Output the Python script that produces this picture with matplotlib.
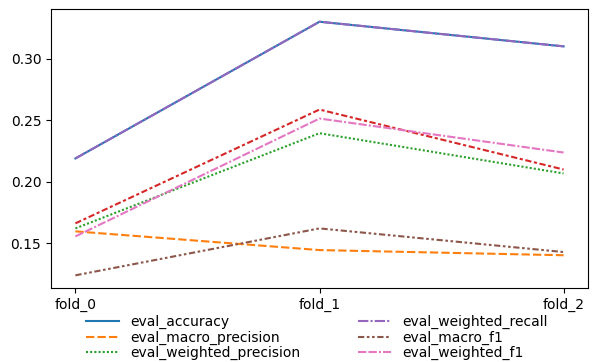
import matplotlib.pyplot as plt

folds = ['fold_0', 'fold_1', 'fold_2']
eval_accuracy = [0.219, 0.330, 0.310]
eval_macro_precision = [0.1598, 0.1446, 0.1404]
eval_weighted_precision = [0.1622, 0.2395, 0.2068]
eval_macro_recall = [0.1663, 0.2587, 0.2100]
eval_weighted_recall = [0.219, 0.330, 0.310]
eval_macro_f1 = [0.1241, 0.1622, 0.1430]
eval_weighted_f1 = [0.1557, 0.2514, 0.2238]

series = [
    ('eval_accuracy', eval_accuracy),
    ('eval_macro_precision', eval_macro_precision),
    ('eval_weighted_precision', eval_weighted_precision),
    ('eval_macro_recall', eval_macro_recall),
    ('eval_weighted_recall', eval_weighted_recall),
    ('eval_macro_f1', eval_macro_f1),
    ('eval_weighted_f1', eval_weighted_f1),
]

# seaborn-style default dash patterns
dashes = [
    None,
    (4, 1.5),
    (1, 1),
    (3, 1.25, 1.5, 1.25),
    (5, 1, 1, 1),
    (3, 1.25, 1.25, 1.25, 1.25, 1.25),
    (4, 1, 4, 1, 1, 1),
]
colors = ['tab:blue', 'tab:orange', 'tab:green', 'tab:red',
          'tab:purple', 'tab:brown', 'tab:pink']

fig = plt.figure(figsize=(5.93, 3.62), dpi=100)
ax = fig.add_axes([0.086, 0.2044, 0.9056, 0.7706])

lines = []
for (name, vals), d, c in zip(series, dashes, colors):
    line, = ax.plot(folds, vals, color=c, lw=1.5, label=name)
    if d is not None:
        line.set_dashes(d)
    lines.append(line)

# the macro_recall entry is cropped away in the original, so leave it out
shown = [l for l in lines if l.get_label() != 'eval_macro_recall']
ax.legend(handles=shown, loc='upper center', bbox_to_anchor=(0.495, -0.053),
          ncol=2, frameon=False, labelspacing=0.08, handlelength=2.4,
          columnspacing=4.1)

fig.savefig('out.png', dpi=100)
